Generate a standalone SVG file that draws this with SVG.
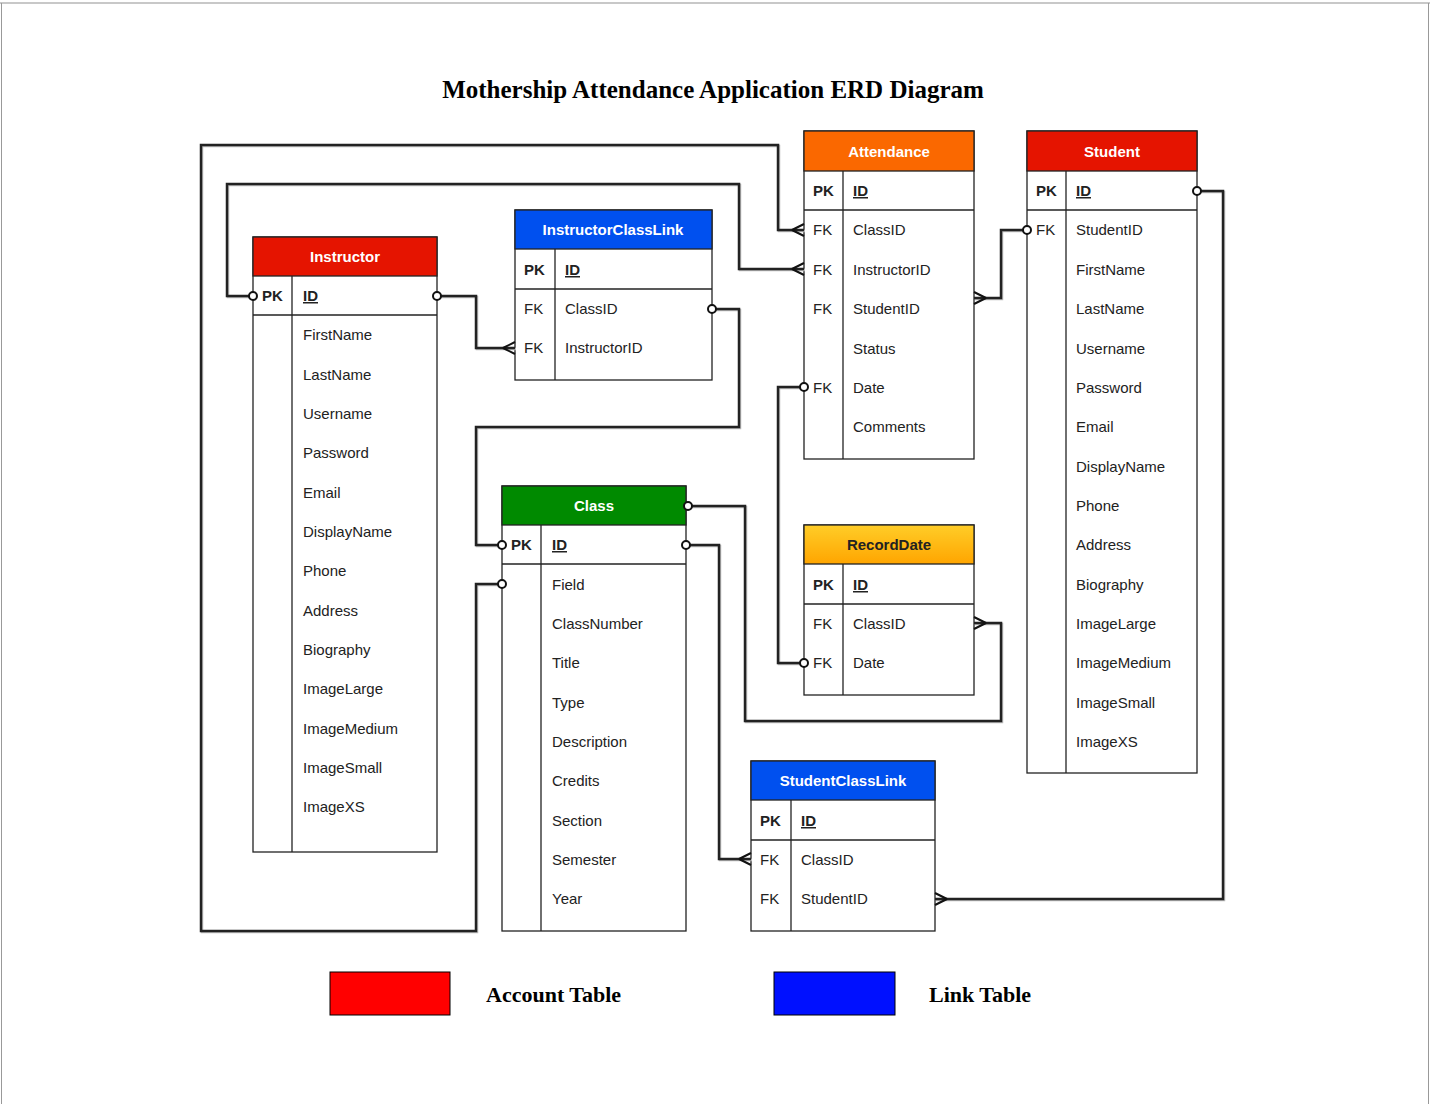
<svg xmlns="http://www.w3.org/2000/svg" width="1430" height="1104" viewBox="0 0 1430 1104">
<defs>
<linearGradient id="gy" x1="0" y1="0" x2="0" y2="1"><stop offset="0" stop-color="#ffcd28"/><stop offset="1" stop-color="#ffa500"/></linearGradient>
<style>
.t{font-family:"Liberation Sans",Arial,sans-serif;font-size:15px;fill:#222}
.b{font-weight:bold}
.h{font-family:"Liberation Sans",Arial,sans-serif;font-size:15px;font-weight:bold;fill:#fff;text-anchor:middle}
.box{fill:#fff;stroke:#222;stroke-width:1.3}
.ln{stroke:#222;stroke-width:1.3}
.c{fill:none;stroke:#222;stroke-width:2.5;stroke-linejoin:miter}
.sh{fill:none;stroke:#bbb;stroke-width:2.5}
.o{fill:#fff;stroke:#111;stroke-width:2}
.cf{fill:none;stroke:#111;stroke-width:2}
.ttl{font-family:"Liberation Serif","Times New Roman",serif;font-weight:bold;fill:#000}
</style>
</defs>
<rect width="1430" height="1104" fill="#fff"/>
<line x1="0" y1="3" x2="1430" y2="3" stroke="#c8c8c8" stroke-width="2"/>
<line x1="1.5" y1="3" x2="1.5" y2="1104" stroke="#999" stroke-width="1"/>
<line x1="1428.5" y1="3" x2="1428.5" y2="1104" stroke="#999" stroke-width="1"/>
<text class="ttl" x="713" y="98" font-size="25" text-anchor="middle">Mothership Attendance Application ERD Diagram</text>

<g id="instructor">
<rect class="box" x="253" y="237" width="184" height="615"/>
<rect x="253" y="237" width="184" height="39" fill="#e51400" stroke="#222" stroke-width="1.3"/>
<line class="ln" x1="253" y1="315" x2="437" y2="315"/>
<line class="ln" x1="292" y1="276" x2="292" y2="852"/>
<text class="h" x="345" y="262">Instructor</text>
<text class="t b" x="262" y="301">PK</text>
<text class="t b" x="303" y="301" text-decoration="underline">ID</text>
<text class="t" x="303" y="340">FirstName</text>
<text class="t" x="303" y="380">LastName</text>
<text class="t" x="303" y="419">Username</text>
<text class="t" x="303" y="458">Password</text>
<text class="t" x="303" y="498">Email</text>
<text class="t" x="303" y="537">DisplayName</text>
<text class="t" x="303" y="576">Phone</text>
<text class="t" x="303" y="616">Address</text>
<text class="t" x="303" y="655">Biography</text>
<text class="t" x="303" y="694">ImageLarge</text>
<text class="t" x="303" y="734">ImageMedium</text>
<text class="t" x="303" y="773">ImageSmall</text>
<text class="t" x="303" y="812">ImageXS</text>
</g>

<g id="instructorclasslink">
<rect class="box" x="515" y="210" width="197" height="170"/>
<rect x="515" y="210" width="197" height="39" fill="#0050ef" stroke="#222" stroke-width="1.3"/>
<line class="ln" x1="515" y1="289" x2="712" y2="289"/>
<line class="ln" x1="555" y1="249" x2="555" y2="380"/>
<text class="h" x="613" y="235">InstructorClassLink</text>
<text class="t b" x="524" y="275">PK</text>
<text class="t b" x="565" y="275" text-decoration="underline">ID</text>
<text class="t" x="524" y="314">FK</text>
<text class="t" x="565" y="314">ClassID</text>
<text class="t" x="524" y="353">FK</text>
<text class="t" x="565" y="353">InstructorID</text>
</g>

<g id="attendance">
<rect class="box" x="804" y="131" width="170" height="328"/>
<rect x="804" y="131" width="170" height="40" fill="#fa6800" stroke="#222" stroke-width="1.3"/>
<line class="ln" x1="804" y1="210" x2="974" y2="210"/>
<line class="ln" x1="843" y1="171" x2="843" y2="459"/>
<text class="h" x="889" y="157">Attendance</text>
<text class="t b" x="813" y="196">PK</text>
<text class="t b" x="853" y="196" text-decoration="underline">ID</text>
<text class="t" x="813" y="235">FK</text>
<text class="t" x="853" y="235">ClassID</text>
<text class="t" x="813" y="275">FK</text>
<text class="t" x="853" y="275">InstructorID</text>
<text class="t" x="813" y="314">FK</text>
<text class="t" x="853" y="314">StudentID</text>
<text class="t" x="853" y="354">Status</text>
<text class="t" x="813" y="393">FK</text>
<text class="t" x="853" y="393">Date</text>
<text class="t" x="853" y="432">Comments</text>
</g>

<g id="student">
<rect class="box" x="1027" y="131" width="170" height="642"/>
<rect x="1027" y="131" width="170" height="40" fill="#e51400" stroke="#222" stroke-width="1.3"/>
<line class="ln" x1="1027" y1="210" x2="1197" y2="210"/>
<line class="ln" x1="1066" y1="171" x2="1066" y2="773"/>
<text class="h" x="1112" y="157">Student</text>
<text class="t b" x="1036" y="196">PK</text>
<text class="t b" x="1076" y="196" text-decoration="underline">ID</text>
<text class="t" x="1036" y="235">FK</text>
<text class="t" x="1076" y="235">StudentID</text>
<text class="t" x="1076" y="275">FirstName</text>
<text class="t" x="1076" y="314">LastName</text>
<text class="t" x="1076" y="354">Username</text>
<text class="t" x="1076" y="393">Password</text>
<text class="t" x="1076" y="432">Email</text>
<text class="t" x="1076" y="472">DisplayName</text>
<text class="t" x="1076" y="511">Phone</text>
<text class="t" x="1076" y="550">Address</text>
<text class="t" x="1076" y="590">Biography</text>
<text class="t" x="1076" y="629">ImageLarge</text>
<text class="t" x="1076" y="668">ImageMedium</text>
<text class="t" x="1076" y="708">ImageSmall</text>
<text class="t" x="1076" y="747">ImageXS</text>
</g>

<g id="class">
<rect class="box" x="502" y="486" width="184" height="445"/>
<rect x="502" y="486" width="184" height="39" fill="#008a00" stroke="#222" stroke-width="1.3"/>
<line class="ln" x1="502" y1="564" x2="686" y2="564"/>
<line class="ln" x1="541" y1="525" x2="541" y2="931"/>
<text class="h" x="594" y="511">Class</text>
<text class="t b" x="511" y="550">PK</text>
<text class="t b" x="552" y="550" text-decoration="underline">ID</text>
<text class="t" x="552" y="590">Field</text>
<text class="t" x="552" y="629">ClassNumber</text>
<text class="t" x="552" y="668">Title</text>
<text class="t" x="552" y="708">Type</text>
<text class="t" x="552" y="747">Description</text>
<text class="t" x="552" y="786">Credits</text>
<text class="t" x="552" y="826">Section</text>
<text class="t" x="552" y="865">Semester</text>
<text class="t" x="552" y="904">Year</text>
</g>

<g id="recorddate">
<rect class="box" x="804" y="525" width="170" height="170"/>
<rect x="804" y="525" width="170" height="39" fill="url(#gy)" stroke="#222" stroke-width="1.3"/>
<line class="ln" x1="804" y1="604" x2="974" y2="604"/>
<line class="ln" x1="843" y1="564" x2="843" y2="695"/>
<text class="h" x="889" y="550" style="fill:#222">RecordDate</text>
<text class="t b" x="813" y="590">PK</text>
<text class="t b" x="853" y="590" text-decoration="underline">ID</text>
<text class="t" x="813" y="629">FK</text>
<text class="t" x="853" y="629">ClassID</text>
<text class="t" x="813" y="668">FK</text>
<text class="t" x="853" y="668">Date</text>
</g>

<g id="studentclasslink">
<rect class="box" x="751" y="761" width="184" height="170"/>
<rect x="751" y="761" width="184" height="39" fill="#0050ef" stroke="#222" stroke-width="1.3"/>
<line class="ln" x1="751" y1="840" x2="935" y2="840"/>
<line class="ln" x1="791" y1="800" x2="791" y2="931"/>
<text class="h" x="843" y="786">StudentClassLink</text>
<text class="t b" x="760" y="826">PK</text>
<text class="t b" x="801" y="826" text-decoration="underline">ID</text>
<text class="t" x="760" y="865">FK</text>
<text class="t" x="801" y="865">ClassID</text>
<text class="t" x="760" y="904">FK</text>
<text class="t" x="801" y="904">StudentID</text>
</g>

<g id="connectors">
<g transform="translate(1,1)">
<path class="sh" d="M502,584H476V931H201V145H778V230H804"/>
<path class="sh" d="M253,296H227V184H739V269H804"/>
<path class="sh" d="M437,296H476V348H515"/>
<path class="sh" d="M712,309H739V427H476V545H502"/>
<path class="sh" d="M974,298H1001V230H1027"/>
<path class="sh" d="M804,387H778V663H804"/>
<path class="sh" d="M686,506H745V721H1001V623H974"/>
<path class="sh" d="M686,545H719V859H751"/>
<path class="sh" d="M1197,191H1223V899H935"/>
</g>
<path class="c" d="M502,584H476V931H201V145H778V230H804"/>
<path class="c" d="M253,296H227V184H739V269H804"/>
<path class="c" d="M437,296H476V348H515"/>
<path class="c" d="M712,309H739V427H476V545H502"/>
<path class="c" d="M974,298H1001V230H1027"/>
<path class="c" d="M804,387H778V663H804"/>
<path class="c" d="M686,506H745V721H1001V623H974"/>
<path class="c" d="M686,545H719V859H751"/>
<path class="c" d="M1197,191H1223V899H935"/>
<path class="cf" d="M792,230L804,224M792,230L804,236"/>
<path class="cf" d="M792,269L804,263M792,269L804,275"/>
<path class="cf" d="M503,348L515,342M503,348L515,354"/>
<path class="cf" d="M739,859L751,853M739,859L751,865"/>
<path class="cf" d="M986,298L974,292M986,298L974,304"/>
<path class="cf" d="M986,623L974,617M986,623L974,629"/>
<path class="cf" d="M947,899L935,893M947,899L935,905"/>
<circle class="o" cx="253" cy="296" r="4"/>
<circle class="o" cx="437" cy="296" r="4"/>
<circle class="o" cx="712" cy="309" r="4"/>
<circle class="o" cx="502" cy="545" r="4"/>
<circle class="o" cx="502" cy="584" r="4"/>
<circle class="o" cx="1027" cy="230" r="4"/>
<circle class="o" cx="804" cy="387" r="4"/>
<circle class="o" cx="804" cy="663" r="4"/>
<circle class="o" cx="688" cy="506" r="4"/>
<circle class="o" cx="686" cy="545" r="4"/>
<circle class="o" cx="1197" cy="191" r="4"/>
</g>

<g id="legend">
<rect x="330" y="972" width="120" height="43" fill="#ff0000" stroke="#000" stroke-width="1"/>
<text class="ttl" x="486" y="1002" font-size="22">Account Table</text>
<rect x="774" y="972" width="121" height="43" fill="#0010ff" stroke="#000" stroke-width="1"/>
<text class="ttl" x="929" y="1002" font-size="22">Link Table</text>
</g>
</svg>
